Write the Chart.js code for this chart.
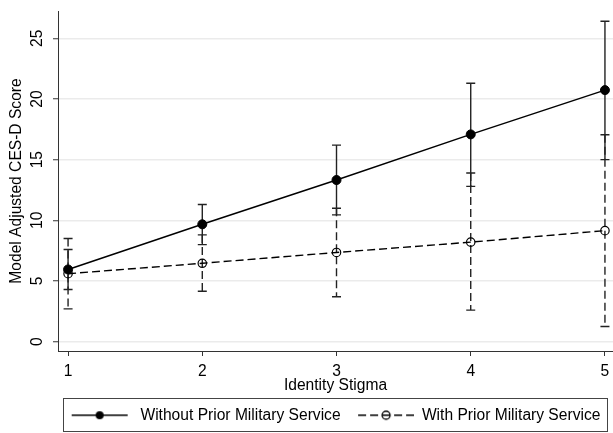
<!DOCTYPE html>
<html>
<head>
<meta charset="utf-8">
<script src="https://cdn.jsdelivr.net/npm/chart.js@4"></script>
<style>
html, body { margin: 0; padding: 0; background: #fff; }
#wrap { width: 613px; height: 433px; }
</style>
</head>
<body>
<div id="wrap"><canvas id="stigmaChart"></canvas></div>
<script>
const stigmaLevels = [1, 2, 3, 4, 5];
const withoutMean = [5.95, 9.67, 13.32, 17.08, 20.73];
const withoutLow = [4.3, 8.0, 10.45, 12.8, 15.0];
const withoutHigh = [7.6, 11.3, 16.2, 21.3, 26.4];
const withMean = [5.6, 6.46, 7.35, 8.2, 9.15];
const withLow = [2.7, 4.15, 3.7, 2.6, 1.25];
const withHigh = [8.5, 8.8, 11.0, 13.9, 17.05];
const yTicks = [0, 5, 10, 15, 20, 25];
const seriesNames = ['Without Prior Military Service', 'With Prior Military Service'];

const FS = 15.6;
const font = { family: "'Liberation Sans', Arial, sans-serif", size: FS };
const DASH = [8, 4];
const LEGEND_PAD = 11.5;
const MARK_W = 62;
const X_AXIS_H = 433 - 11 - 340 - (FS + LEGEND_PAD + 10);

function points(ys) {
    return stigmaLevels.map(function (x, i) { return { x: x, y: ys[i] }; });
}

// line-marker-line picture used as the legend symbol
function legendMarker(dashed, filled, from, to) {
    const c = document.createElement('canvas');
    c.width = MARK_W;
    c.height = 12;
    const g = c.getContext('2d');
    const mid = (from + to) / 2;
    g.strokeStyle = '#000';
    g.lineWidth = 1.3;
    g.setLineDash(dashed ? DASH : []);
    g.beginPath();
    g.moveTo(from, 6);
    g.lineTo(to, 6);
    g.stroke();
    g.setLineDash([]);
    g.beginPath();
    g.arc(mid, 6, 4, 0, Math.PI * 2);
    if (filled) {
        g.fillStyle = '#000';
        g.fill();
    } else {
        g.stroke();
    }
    return c;
}

const errorBars = {
    id: 'errorBars',
    beforeDatasetsDraw(chart) {
        const ctx = chart.ctx;
        const xs = chart.scales.x, ys = chart.scales.y;
        const sets = [
            { low: withLow, high: withHigh, dash: DASH },
            { low: withoutLow, high: withoutHigh, dash: [] }
        ];
        ctx.save();
        ctx.strokeStyle = '#222';
        ctx.lineWidth = 1.4;
        sets.forEach(function (s) {
            stigmaLevels.forEach(function (v, i) {
                const px = xs.getPixelForValue(v);
                const lo = ys.getPixelForValue(s.low[i]);
                const hi = ys.getPixelForValue(s.high[i]);
                ctx.setLineDash(s.dash);
                ctx.beginPath();
                ctx.moveTo(px, hi);
                ctx.lineTo(px, lo);
                ctx.stroke();
                ctx.setLineDash([]);
                ctx.beginPath();
                ctx.moveTo(px - 4.5, hi);
                ctx.lineTo(px + 4.5, hi);
                ctx.moveTo(px - 4.5, lo);
                ctx.lineTo(px + 4.5, lo);
                ctx.stroke();
            });
        });
        ctx.restore();
    }
};

// frame round the legend row, like Stata draws it
const legendBox = {
    id: 'legendBox',
    afterDraw(chart) {
        const hb = chart.legend.legendHitBoxes[0];
        if (!hb) return;
        const cy = hb.top + hb.height / 2;
        const a = chart.chartArea;
        const ctx = chart.ctx;
        ctx.save();
        ctx.strokeStyle = '#444';
        ctx.lineWidth = 1;
        ctx.strokeRect(Math.round(a.left + 5) + 0.5, Math.round(cy - 17) + 0.5, Math.round(a.right - a.left - 11), 33);
        ctx.restore();
    }
};

const markers = [legendMarker(false, true, 1, 57), legendMarker(true, false, 6, 62)];

function noEdgePadding(s) {
    s.paddingTop = 0;
    s.paddingBottom = 0;
    s.paddingLeft = 0;
    s.paddingRight = 0;
}

const stigmaChart = new Chart(document.getElementById('stigmaChart'), {
    type: 'line',
    data: {
        datasets: [{
            label: seriesNames[0],
            data: points(withoutMean),
            borderColor: '#000',
            borderWidth: 1.5,
            pointRadius: 4.5,
            pointBackgroundColor: '#000',
            pointBorderColor: '#000',
            pointBorderWidth: 1
        }, {
            label: seriesNames[1],
            data: points(withMean),
            borderColor: '#000',
            borderWidth: 1.4,
            borderDash: DASH,
            pointRadius: 4.2,
            pointBackgroundColor: 'rgba(0,0,0,0)',
            pointBorderColor: '#000',
            pointBorderWidth: 1.2
        }]
    },
    options: {
        responsive: true,
        maintainAspectRatio: false,
        animation: false,
        devicePixelRatio: 1,
        layout: { autoPadding: false, padding: { top: 11, left: 0, right: 0, bottom: 0 } },
        plugins: {
            tooltip: { enabled: false },
            legend: {
                position: 'bottom',
                fullSize: false,
                labels: {
                    usePointStyle: true,
                    pointStyleWidth: MARK_W,
                    padding: LEGEND_PAD,
                    color: '#000',
                    font: font,
                    generateLabels: function () {
                        return seriesNames.map(function (name, i) {
                            return {
                                text: name,
                                pointStyle: markers[i],
                                fontColor: '#000',
                                lineWidth: 0,
                                hidden: false,
                                datasetIndex: i
                            };
                        });
                    }
                }
            }
        },
        scales: {
            x: {
                type: 'linear',
                min: 0.925,
                max: 5.06,
                afterBuildTicks: function (s) { s.ticks = stigmaLevels.map(function (v) { return { value: v }; }); },
                afterFit: function (s) { s.height = X_AXIS_H; noEdgePadding(s); },
                grid: { drawOnChartArea: false, drawTicks: true, tickLength: 5, tickColor: '#333', tickWidth: 1 },
                border: { display: true, color: '#333', width: 1 },
                ticks: { color: '#000', font: font, padding: 6, maxRotation: 0 },
                title: { display: true, text: 'Identity Stigma', color: '#000', font: font, padding: { top: 0, bottom: 0.5 } }
            },
            y: {
                type: 'linear',
                min: -0.77,
                max: 27.25,
                afterBuildTicks: function (s) { s.ticks = yTicks.map(function (v) { return { value: v }; }); },
                afterFit: function (s) { s.width = 58; noEdgePadding(s); },
                grid: { color: '#ebebeb', lineWidth: 1.5, drawTicks: true, tickLength: 5, tickColor: '#333', tickWidth: 1 },
                border: { display: true, color: '#333', width: 1 },
                ticks: { color: '#000', font: font, minRotation: 90, maxRotation: 90, crossAlign: 'center', padding: 7 },
                title: { display: true, text: 'Model Adjusted CES-D Score', color: '#000', font: font, padding: { top: 7.6, bottom: 0 } }
            }
        }
    },
    plugins: [errorBars, legendBox]
});
</script>
</body>
</html>
